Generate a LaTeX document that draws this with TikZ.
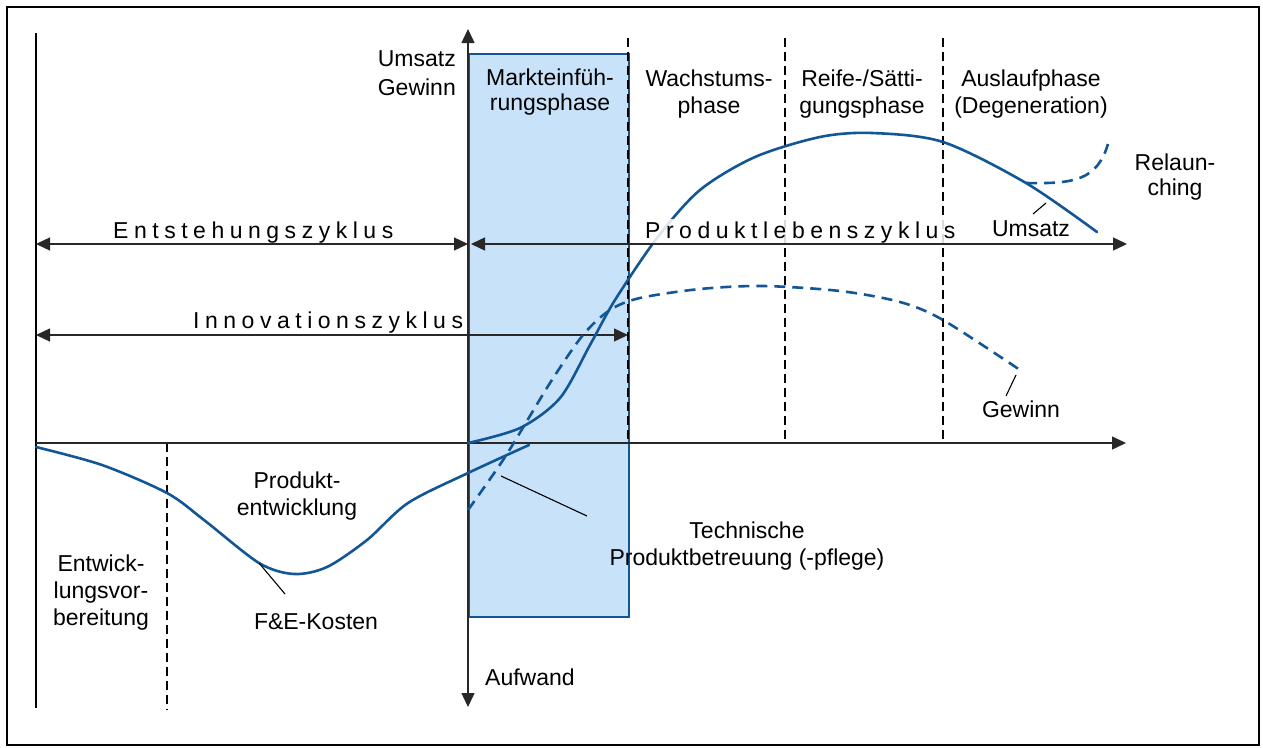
\documentclass[tikz,border=0pt]{standalone}
\usepackage{fontspec}
\setmainfont{Liberation Sans}
\newfontfamily\spacedfont[LetterSpace=24]{Liberation Sans}
\usetikzlibrary{arrows.meta}
\definecolor{curveblue}{RGB}{18,86,150}
\definecolor{phasefill}{RGB}{200,226,249}
\definecolor{axisgray}{RGB}{40,40,40}

\begin{document}
\begin{tikzpicture}[x=1pt,y=-1pt,
  every node/.style={font=\fontsize{23}{27}\selectfont,inner sep=0pt,align=center},
  axis/.style={line width=1.4pt,draw=axisgray},
  tip/.style={-{Triangle[length=14pt,width=13pt]}},
  twotips/.style={{Triangle[length=14pt,width=13pt]}-{Triangle[length=14pt,width=13pt]}},
  phaseline/.style={line width=1.1pt,dash pattern=on 9pt off 5pt},
  curve/.style={line width=2.6pt,draw=curveblue,line cap=round},
  dashcurve/.style={curve,line cap=butt,dash pattern=on 11pt off 7pt},
  leader/.style={line width=1.1pt},
  cyclelbl/.style={font=\fontsize{23}{27}\selectfont\spacedfont,anchor=base west}]
\useasboundingbox (0,0) rectangle (1263,747);
\draw[line width=2.5pt] (7,7) rectangle (1259,745);

% phase box
\node[draw=curveblue,line width=2.4pt,fill=phasefill,minimum width=160pt,minimum height=563pt,anchor=north west] (intro) at (468,53) {};

\coordinate (o) at (468,443);
\coordinate (xstart) at (36,443);
\coordinate (xend) at (1126,443);
\coordinate (ytop) at (468,29);
\coordinate (ybot) at (468,707);

% phase borders
\draw[leader] (36,33) -- (36,708);
\foreach \x in {628,785,943}
  \draw[phaseline] (\x,38) -- (\x,443);
\draw[phaseline] (167,443) -- (167,710);

% axes and cycles
\draw[axis,tip] (xstart) -- (xend);
\draw[axis,twotips] (ytop) -- (ybot);
\draw[axis,twotips] (36,244) -- (468,244);
\draw[axis,twotips] (36,335) -- (628,335);

% curves
\draw[curve] plot[smooth] coordinates {(36,447) (102,465) (167,493) (204,520) (259,563) (294,574) (327,567) (367,540) (408,503) (468,473) (529,445)};
\draw[curve] plot[smooth] coordinates {(468,443) (520,428) (560,398) (590,345) (615,300) (657,238) (700,190) (755,157) (820,137) (872,133) (943,142) (1026,183) (1097,232)};
\draw[dashcurve] plot[smooth] coordinates {(468,510) (505,457) (550,383) (583,335) (610,310) (640,298) (700,289) (763,286) (840,291) (900,302) (943,320) (1020,370)};
\draw[dashcurve] (1026,183) .. controls (1075,184) and (1097,180) .. (1108,144);

% leaders
\coordinate (feA) at (259,563);   \coordinate (feB) at (285,594);
\coordinate (umA) at (1046,203);  \coordinate (umB) at (1033,214);
\coordinate (geA) at (1016,375);  \coordinate (geB) at (1006,396);
\coordinate (teA) at (501,476);   \coordinate (teB) at (587,516);
\draw[leader] (feA) -- (feB);
\draw[leader] (umA) -- (umB);
\draw[leader] (geA) -- (geB);
\draw[leader] (teA) -- (teB);

% labels (base = last line)
\node[anchor=base east,align=right] (yaxis) at (456,95) {Umsatz\\[2pt]Gewinn};
\node[anchor=base] (markt) at (550,110) {Markteinfüh-\\[-2pt]rungsphase};
\node[anchor=base] (wachs) at (709,113) {Wachstums-\\phase};
\node[anchor=base] (reife) at (862,113) {Reife-/Sätti-\\gungsphase};
\node[anchor=base] (auslauf) at (1031,113) {Auslaufphase\\(Degeneration)};
\node[anchor=base] (relaunch) at (1175,195) {Relaun-\\[-2pt]ching};
\node[anchor=base] (umsatz) at (1031,236) {Umsatz};
\node[anchor=base] (gewinn) at (1021,417) {Gewinn};
\node[anchor=base] (entw) at (297,515) {Produkt-\\entwicklung};
\node[anchor=base] (vorb) at (101,625) {Entwick-\\lungsvor-\\bereitung};
\node[anchor=base] (fekosten) at (316,629) {F\&E-Kosten};
\node[anchor=base] (pflege) at (747,565) {Technische\\Produktbetreuung (-pflege)};
\node[anchor=base west] (aufwand) at (485,685) {Aufwand};
\node[cyclelbl] (entst) at (113,238) {Entstehungszyklus};
\node[cyclelbl] (innov) at (193,328) {Innovationszyklus};
\node[cyclelbl,fill=white,fill opacity=0.85,text opacity=1,inner sep=2pt] (leben) at (643,238) {Produktlebenszyklus};
\draw[axis,twotips] (471,244) -- (1127,244);
\end{tikzpicture}
\end{document}
